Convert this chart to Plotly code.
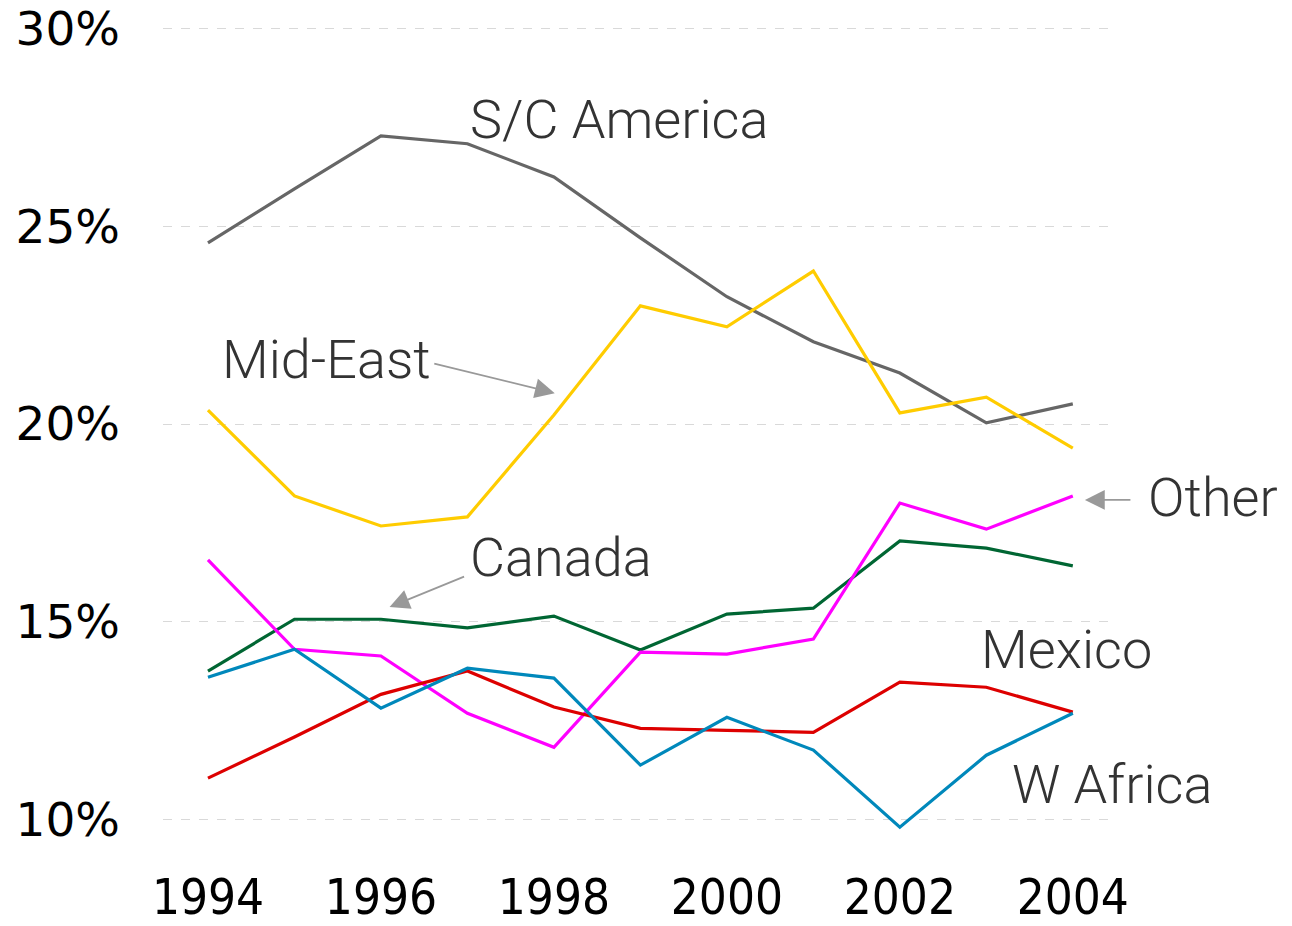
import plotly.graph_objects as go

years = list(range(1994, 2005))

sc_america = [24.58, 25.95, 27.29, 27.09, 26.25, 24.71, 23.22, 22.08, 21.29, 20.03, 20.51]
mid_east   = [20.35, 18.18, 17.42, 17.65, 20.23, 22.99, 22.46, 23.87, 20.28, 20.68, 19.39]
canada     = [13.75, 15.06, 15.06, 14.84, 15.14, 14.28, 15.19, 15.34, 17.04, 16.86, 16.41]
other      = [16.56, 14.30, 14.13, 12.68, 11.82, 14.23, 14.18, 14.56, 18.00, 17.34, 18.18]
mexico     = [11.04, 12.08, 13.16, 13.75, 12.84, 12.30, 12.25, 12.20, 13.47, 13.34, 12.71]
w_africa   = [13.59, 14.30, 12.81, 13.82, 13.57, 11.37, 12.58, 11.75, 9.80, 11.62, 12.68]

series = [
    ("S/C America", sc_america, "#666666"),
    ("Mid-East", mid_east, "#FFCC00"),
    ("Canada", canada, "#006633"),
    ("Other", other, "#FF00FF"),
    ("Mexico", mexico, "#DD0000"),
    ("W Africa", w_africa, "#0088BB"),
]

y_ticks = [10, 15, 20, 25, 30]
y_tick_labels = [f"{v}%" for v in y_ticks]
x_ticks = [1994, 1996, 1998, 2000, 2002, 2004]

fig = go.Figure()
for name, vals, color in series:
    fig.add_trace(go.Scatter(x=years, y=vals, mode="lines", name=name,
                             line=dict(color=color, width=3.2), showlegend=False))

label_font = dict(family="Roboto", size=54, color="#333333", weight=300)
labels = [
    ("S/C America", 0.3220, 0.8665),
    ("Mid-East", 0.0600, 0.5772),
    ("Canada", 0.3220, 0.3397),
    ("Other", 1.0380, 0.412),
    ("Mexico", 0.8620, 0.2288),
    ("W Africa", 0.8940, 0.066),
]
for text, px, py in labels:
    fig.add_annotation(text=text, xref="paper", yref="paper", x=px, y=py,
                       xanchor="left", yanchor="middle", showarrow=False,
                       font=label_font)

arrows = [
    (1998.01, 20.78, -122, -30),
    (1996.10, 15.37, 76, -31),
    (2004.14, 18.08, 47, 0),
]
for ax_, ay_, dx, dy in arrows:
    fig.add_annotation(x=ax_, y=ay_, xref="x", yref="y", ax=dx, ay=dy,
                       text="", showarrow=True, arrowhead=2, arrowsize=2.2,
                       arrowwidth=1.8, arrowcolor="#999999")

x_tick_font = dict(family="DejaVu Sans Condensed", size=49, color="#000000")
y_tick_font = dict(family="DejaVu Sans", size=47, color="#000000")
fig.update_layout(
    width=1292, height=926,
    margin=dict(l=163, r=182, t=9.25, b=87.25),
    plot_bgcolor="white", paper_bgcolor="white",
    xaxis=dict(range=[1993.48, 2004.43], tickvals=x_ticks, showgrid=False,
               zeroline=False, showline=False, ticks="", tickfont=x_tick_font,
               ticklabelstandoff=25, automargin=False, ticklabeloverflow="allow"),
    yaxis=dict(range=[9.5, 30.5], tickvals=y_ticks, ticktext=y_tick_labels,
               showgrid=True, gridcolor="#D9D9D9", gridwidth=1, griddash="dash",
               zeroline=False, showline=False, ticks="", tickfont=y_tick_font,
               ticklabelstandoff=42, automargin=False, ticklabeloverflow="allow"),
)

fig.write_html("out.html", config={"displayModeBar": False},
               post_script="document.body.style.margin='0';")
